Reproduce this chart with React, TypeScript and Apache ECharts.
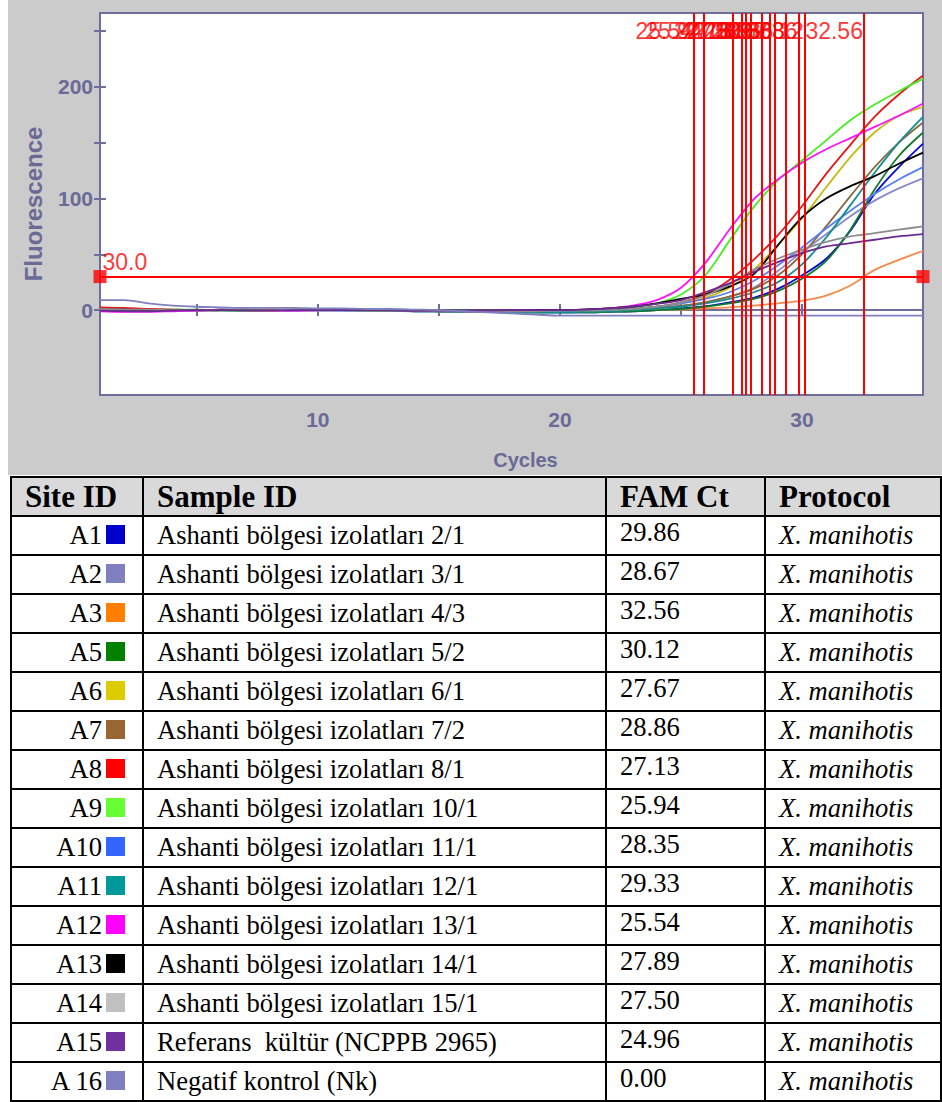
import React, { useEffect, useRef } from "react";
import * as echarts from "echarts";

// ---------- data ----------
const cycles = [1, 2, 3, 4, 5, 6, 7, 8, 9, 10, 11, 12, 13, 14, 15, 16, 17, 18, 19, 20, 21, 22, 23, 24, 25, 26, 27, 28, 29, 30, 31, 32, 33, 34, 35];

const siteIds = ["A1", "A2", "A3", "A5", "A6", "A7", "A8", "A9", "A10", "A11", "A12", "A13", "A14", "A15", "A 16"];
const sampleIds = [
  "Ashanti bölgesi izolatları 2/1",
  "Ashanti bölgesi izolatları 3/1",
  "Ashanti bölgesi izolatları 4/3",
  "Ashanti bölgesi izolatları 5/2",
  "Ashanti bölgesi izolatları 6/1",
  "Ashanti bölgesi izolatları 7/2",
  "Ashanti bölgesi izolatları 8/1",
  "Ashanti bölgesi izolatları 10/1",
  "Ashanti bölgesi izolatları 11/1",
  "Ashanti bölgesi izolatları 12/1",
  "Ashanti bölgesi izolatları 13/1",
  "Ashanti bölgesi izolatları 14/1",
  "Ashanti bölgesi izolatları 15/1",
  "Referans  kültür (NCPPB 2965)",
  "Negatif kontrol (Nk)",
];
const famCt = [29.86, 28.67, 32.56, 30.12, 27.67, 28.86, 27.13, 25.94, 28.35, 29.33, 25.54, 27.89, 27.5, 24.96, 0.0];
const protocols = ["X. manihotis", "X. manihotis", "X. manihotis", "X. manihotis", "X. manihotis", "X. manihotis", "X. manihotis", "X. manihotis", "X. manihotis", "X. manihotis", "X. manihotis", "X. manihotis", "X. manihotis", "X. manihotis", "X. manihotis"];
const swatchColors = ["#0000cc", "#8080c0", "#ff8000", "#008000", "#ddcc00", "#996633", "#ff0000", "#66ff33", "#3366ff", "#009999", "#ff00ff", "#000000", "#c0c0c0", "#7030a0", "#8080c0"];
const curveColors = ["#0a0ad0", "#8a8ac8", "#f58a4a", "#107a2a", "#c4bc10", "#8a6a40", "#e81818", "#44ee22", "#5a80f0", "#0f8f8f", "#ff10ff", "#000000", "#8c8c8c", "#6a2a90", "#8080c0"];

// Ct lines drawn on the plot
const markedCt = [25.54, 25.94, 27.13, 27.5, 27.67, 27.89, 28.35, 28.67, 28.86, 29.33, 29.86, 30.12, 32.56];
const threshold = 30;

const xTickValues = [5, 10, 15, 20, 25, 30, 35];
const xLabelValues = [10, 20, 30];
const yTickValues = [0, 50, 100, 150, 200, 250];
const yLabelValues = [0, 100, 200];

// fluorescence per cycle (cycles 1..35)
const fA1 = [1.5, 1, 0.5, 0, 0, 0.5, 0, 0, -0.5, 0, 0, 0, -0.5, -1, -1, -1.5, -1.5, -2, -2, -2, -2, -1.5, -1, 0, 1.5, 3.5, 7, 11, 19, 31, 46, 71, 104, 128, 149];
const fA2 = [1, 1, 0.5, 0.5, 0, 0, 0.5, 0, 0, 0, -0.5, -0.5, -0.5, -1, -1, -1, -1.5, -2, -2, -2, -1.5, -1, 0, 1.5, 3.5, 7, 12, 20, 35, 52, 68, 84, 98, 109, 118];
const fA3 = [0.5, 0.5, 0, -0.5, -0.5, 0, 0, 0.5, 0, -0.5, 0, 0, -0.5, -0.5, -1, -1, -1.5, -1.5, -2, -1.5, -1.5, -1, -0.5, 0, 0.5, 1.5, 2.5, 4, 6, 8.5, 13, 22, 36, 45, 53];
const fA5 = [0, 0.5, 0.5, 0, 0, -0.5, -0.5, 0, 0.5, 0.5, 0, 0, -0.5, -0.5, -1, -1, -1.5, -2, -2, -2, -2, -1.5, -1, 0, 1, 3, 6, 10, 17, 28, 44, 72, 108, 138, 159];
const fA6 = [0, 0, 0.5, 0.5, 0, 0, 0, -0.5, 0, 0, 0.5, 0, 0, -0.5, -0.5, -1, -1, -1, -1.5, -1, -0.5, 0, 1, 3, 6, 11, 20, 36, 58, 82, 110, 137, 159, 174, 182];
const fA7 = [1, 0.5, 0.5, 0, 0, 0, 0.5, 0.5, 0, 0, 0, -0.5, -0.5, -0.5, -1, -1, -1, -1.5, -1.5, -1.5, -1, -0.5, 0.5, 2, 4, 7, 12, 19, 31, 50, 75, 102, 128, 150, 168];
const fA8 = [2.5, 2, 1, 0.5, 0, 0, 0, 0.5, 0.5, 0, 0, 0, 0, -0.5, -0.5, -1, -1, -1, -1, -0.5, -0.5, 0, 1, 3, 7, 14, 27, 45, 67, 93, 122, 148, 173, 193, 210];
const fA9 = [0, 0, 0, 0.5, 0.5, 0, -0.5, 0, 0.5, 0.5, 0, 0, 0, -0.5, -0.5, -0.5, -1, -1, -0.5, 0, 0.5, 1, 2.5, 6, 14, 31, 62, 92, 116, 134, 152, 170, 184, 196, 207];
const fA10 = [0.5, 0.5, 0, 0, 0.5, 0, 0, 0, 0, -0.5, -0.5, 0, 0, -0.5, -1, -1, -1, -1.5, -1.5, -1, -0.5, 0, 1, 3, 6, 10, 16, 26, 40, 56, 73, 89, 104, 117, 128];
const fA11 = [0.5, 0, 0, 0, -0.5, 0, 0, 0, 0, 0, 0, -0.5, -0.5, -1, -1, -1.5, -1.5, -2, -2, -2, -1.5, -1, 0, 1.5, 3, 6, 10, 16, 25, 41, 65, 94, 123, 150, 173];
const fA12 = [-1, -1.5, -1.5, -1, -0.5, 0, 0, -0.5, -0.5, 0, 0, 0.5, 0, -0.5, -0.5, -1, -1, -0.5, 0, 0, 0.5, 1.5, 4, 9, 20, 42, 72, 99, 117, 132, 144, 154, 164, 174, 185];
const fA13 = [0.5, 0.5, 0, 0, 0, 0.5, 0.5, 0, 0, 0, 0, 0, 0, -0.5, -0.5, -0.5, -0.5, -0.5, 0, 0, 0.5, 1.5, 3, 6, 10, 14, 21, 32, 58, 83, 100, 111, 120, 131, 141];
const fA14 = [1, 0.5, 0.5, 0, 0, 0, 0, 0, 0.5, 0, 0, -0.5, -0.5, -0.5, -1, -1, -1, -1, -1, -0.5, -0.5, 0, 1, 3, 7, 13, 23, 36, 46, 54, 61, 66, 69, 72, 75];
const fA15 = [-0.5, -1, -1, -0.5, 0, 0, -0.5, -0.5, 0, 0, 0, 0, 0, -0.5, -0.5, -0.5, -0.5, 0, 0, 0, 0.5, 1.5, 3, 5.5, 9, 16, 24, 34, 43, 51, 57, 60, 63, 66, 68];
const fA16 = [9, 9, 6, 4, 3, 2.5, 2, 2, 2, 1.5, 1.5, 1, 1, 0.5, 0, -1, -2, -3, -4, -5, -5, -5, -5, -5, -5, -5, -5, -5, -5, -5, -5, -5, -5, -5, -5];

const curves = [fA1, fA2, fA3, fA5, fA6, fA7, fA8, fA9, fA10, fA11, fA12, fA13, fA14, fA15, fA16];

// ---------- styling ----------
const AXIS = "#6e6e9c";
const AXIS_TEXT = "#6a6a96";
const RED = "#ff0000";
const SANS = '"Liberation Sans", Arial, Helvetica, sans-serif';
const SERIF = '"Liberation Serif", "Times New Roman", Times, serif';

function Chart() {
  const ref = useRef<HTMLDivElement>(null);
  useEffect(() => {
    if (!ref.current) return;
    const chart = echarts.init(ref.current, null, { renderer: "svg" });
    const lineSeries = curves.map((arr, i) => ({
      name: siteIds[i],
      type: "line",
      data: cycles.map((c, j) => [c, arr[j]]),
      symbol: "none",
      showSymbol: false,
      smooth: 0.3,
      silent: true,
      lineStyle: { color: curveColors[i], width: 1.8 },
      itemStyle: { color: curveColors[i] },
      z: 2,
    }));
    const thresholdSeries = {
      type: "scatter",
      silent: true,
      symbol: "rect",
      symbolSize: 13,
      itemStyle: { color: RED },
      z: 5,
      data: [
        {
          value: [cycles[0], threshold],
          label: {
            show: true,
            formatter: threshold.toFixed(1),
            position: [9, -20],
            align: "left",
            verticalAlign: "top",
            color: RED,
            fontSize: 23,
            fontFamily: SANS,
          },
        },
        { value: [cycles[cycles.length - 1], threshold] },
      ],
      markLine: {
        silent: true,
        symbol: ["none", "none"],
        animation: false,
        label: { show: false },
        lineStyle: { color: RED, width: 2, type: "solid" },
        emphasis: { disabled: true },
        data: [{ yAxis: threshold }, ...markedCt.map((v) => ({ xAxis: v }))],
      },
    };
    const ctLabelSeries = {
      type: "scatter",
      silent: true,
      symbolSize: 0,
      z: 6,
      data: markedCt.map((v) => [v, 250]),
      label: {
        show: true,
        position: "left",
        distance: 1,
        formatter: (p: any) => p.value[0].toFixed(2),
        color: RED,
        fontSize: 23,
        fontFamily: SANS,
      },
    };
    chart.setOption({
      animation: false,
      backgroundColor: "#cbcbcb",
      textStyle: { fontFamily: SANS },
      grid: {
        left: 92,
        right: 19,
        top: 13,
        bottom: 79,
        show: true,
        backgroundColor: "#ffffff",
        borderColor: AXIS,
        borderWidth: 2,
      },
      xAxis: [
        {
          type: "value",
          min: 1,
          max: 35,
          position: "bottom",
          axisLine: { show: true, lineStyle: { color: AXIS, width: 2 } },
          axisTick: { show: true, customValues: xTickValues, length: 6, lineStyle: { color: AXIS, width: 2 } },
          axisLabel: { show: true, customValues: xLabelValues, color: AXIS_TEXT, fontSize: 21, fontWeight: "bold", margin: 14 },
          splitLine: { show: false },
          name: "Cycles",
          nameLocation: "middle",
          nameGap: 55,
          nameTextStyle: { color: AXIS_TEXT, fontSize: 20, fontWeight: "bold", padding: [0, 0, 0, 28] },
        },
        {
          type: "value",
          min: 1,
          max: 35,
          position: "bottom",
          axisLine: { show: false },
          axisTick: { show: true, inside: true, customValues: xTickValues, length: 6, lineStyle: { color: AXIS, width: 2 } },
          axisLabel: { show: false },
          splitLine: { show: false },
        },
      ],
      yAxis: [
        {
          type: "value",
          min: -76,
          max: 266,
          position: "left",
          axisLine: { show: true, lineStyle: { color: AXIS, width: 2 } },
          axisTick: { show: true, customValues: yTickValues, length: 6, lineStyle: { color: AXIS, width: 2 } },
          axisLabel: { show: true, customValues: yLabelValues, color: AXIS_TEXT, fontSize: 21, fontWeight: "bold", margin: 7 },
          splitLine: { show: false },
          name: "Fluorescence",
          nameLocation: "middle",
          nameRotate: 90,
          nameGap: 55,
          nameTextStyle: { color: AXIS_TEXT, fontSize: 24, fontWeight: "bold" },
        },
        {
          type: "value",
          min: -76,
          max: 266,
          position: "left",
          axisLine: { show: false },
          axisTick: { show: true, inside: true, customValues: yTickValues, length: 6, lineStyle: { color: AXIS, width: 2 } },
          axisLabel: { show: false },
          splitLine: { show: false },
        },
      ],
      series: [...lineSeries, thresholdSeries, ctLabelSeries],
    });
    return () => chart.dispose();
  }, []);
  return <div ref={ref} style={{ position: "absolute", left: 8, top: 0, width: 934, height: 475 }} />;
}

const cellBase: React.CSSProperties = {
  border: "2px solid #000",
  padding: "0 0 0 13px",
  verticalAlign: "middle",
  whiteSpace: "pre",
  overflow: "hidden",
};

function Table() {
  return (
    <table
      style={{
        position: "absolute",
        left: 10,
        top: 476,
        width: 930,
        borderCollapse: "collapse",
        tableLayout: "fixed",
        fontFamily: SERIF,
        fontSize: 26.6,
        color: "#000",
      }}
    >
      <colgroup>
        <col style={{ width: 132 }} />
        <col style={{ width: 463 }} />
        <col style={{ width: 159 }} />
        <col style={{ width: 176 }} />
      </colgroup>
      <thead>
        <tr style={{ height: 39, background: "#d9d9d9", fontWeight: "bold", fontSize: 31 }}>
          <th style={{ ...cellBase, textAlign: "left" }}>Site ID</th>
          <th style={{ ...cellBase, textAlign: "left" }}>Sample ID</th>
          <th style={{ ...cellBase, textAlign: "left" }}>FAM Ct</th>
          <th style={{ ...cellBase, textAlign: "left" }}>Protocol</th>
        </tr>
      </thead>
      <tbody>
        {siteIds.map((id, i) => (
          <tr key={id} style={{ height: 39 }}>
            <td style={{ ...cellBase, textAlign: "right", paddingLeft: 0, paddingRight: 17 }}>
              {id}
              <span
                style={{
                  display: "inline-block",
                  width: 19,
                  height: 19,
                  marginLeft: 4,
                  background: swatchColors[i],
                  verticalAlign: "baseline",
                }}
              />
            </td>
            <td style={{ ...cellBase }}>{sampleIds[i]}</td>
            <td style={{ ...cellBase, paddingBottom: 6 }}>{famCt[i].toFixed(2)}</td>
            <td style={{ ...cellBase, fontStyle: "italic" }}>{protocols[i]}</td>
          </tr>
        ))}
      </tbody>
    </table>
  );
}

export default function App() {
  return (
    <div style={{ position: "absolute", left: 0, top: 0, width: 942, height: 1102, background: "#fff" }}>
      <Chart />
      <Table />
    </div>
  );
}
